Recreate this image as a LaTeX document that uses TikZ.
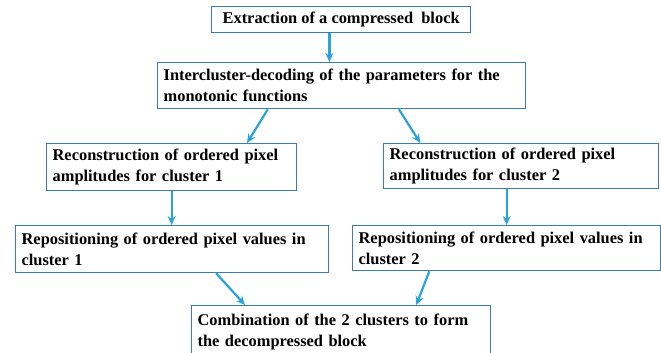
\documentclass[tikz,border=0pt]{standalone}
\usepackage{fontspec}
\setmainfont{Liberation Serif}
\usetikzlibrary{positioning, calc, arrows.meta}
\definecolor{boxblue}{HTML}{3A7DB0}
\definecolor{arrowblue}{HTML}{27A4DD}
\begin{document}
\begin{tikzpicture}[x=1pt, y=-1pt,
        box/.style={rectangle, draw=boxblue, line width=1.3pt, anchor=north west, align=left, inner xsep=6pt, inner ysep=1pt, font=\bfseries\fontsize{16.4}{21}\selectfont},
        arrow/.style={-{Stealth[length=9pt, width=8pt]}, line width=2.2pt, arrowblue}
    ]
        \useasboundingbox (0,0) rectangle (661,353);

        \node[box, align=center, inner xsep=1pt, minimum width=259pt, minimum height=26pt] (extract) at (211,6) {Extraction of a compressed~~block};
        \node[box, text width=356pt, minimum height=46pt] (decode) at (157,62) {Intercluster-decoding of the parameters for the\\monotonic functions};
        \node[box, text width=238pt, minimum height=47pt] (recon1) at (46,143) {Reconstruction of ordered pixel\\amplitudes for cluster 1};
        \node[box, text width=263pt, minimum height=45pt] (recon2) at (383,143) {Reconstruction of ordered pixel\\amplitudes for cluster 2};
        \node[box, text width=301pt, minimum height=47pt] (repos1) at (15,225) {Repositioning of ordered pixel values in\\cluster 1};
        \node[box, text width=296pt, minimum height=45pt] (repos2) at (352,225) {Repositioning of ordered pixel values in\\cluster 2};
        \node[box, text width=287pt, minimum height=52pt] (combine) at (191,305) {Combination of the 2 clusters to form\\the decompressed block};

        \coordinate (extractout) at ($(extract.south west)!0.455!(extract.south east)$);
        \draw[arrow] (extractout) -- (extractout |- decode.north);
        \draw[arrow] ($(decode.south west)!0.30!(decode.south east)$) -- ($(recon1.north west)!0.80!(recon1.north east)$);
        \draw[arrow] ($(decode.south west)!0.655!(decode.south east)$) -- ($(recon2.north west)!0.135!(recon2.north east)$);
        \draw[arrow] (recon1.south) -- (recon1.south |- repos1.north);
        \draw[arrow] (recon2.south -| repos2.north) -- (repos2.north);
        \draw[arrow] ($(repos1.south west)!0.64!(repos1.south east)$) -- ($(combine.north west)!0.18!(combine.north east)$);
        \draw[arrow] ($(repos2.south west)!0.25!(repos2.south east)$) -- ($(combine.north west)!0.75!(combine.north east)$);
    \end{tikzpicture}
\end{document}
